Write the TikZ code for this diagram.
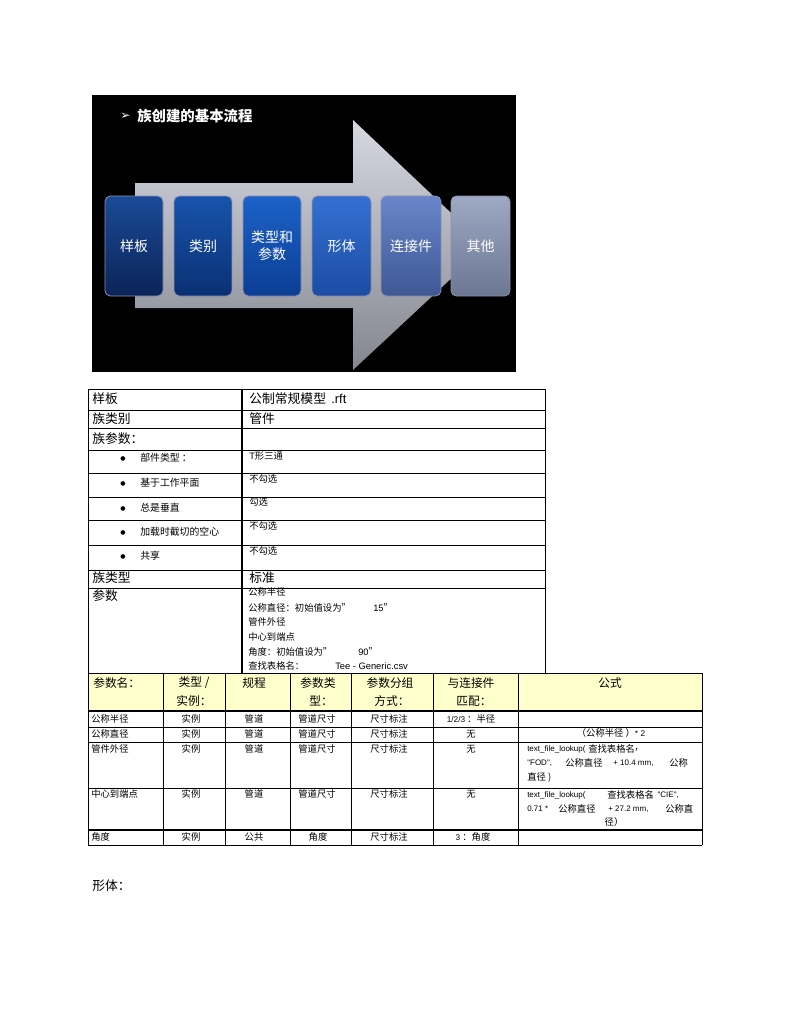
\documentclass[tikz,border=0pt]{standalone}
\usepackage{fontspec}
\setmainfont{Noto Sans CJK SC}
\newfontfamily\lat{Liberation Sans}
\newfontfamily\dv{DejaVu Sans}
\definecolor{arT}{HTML}{D6D9E1}
\definecolor{arB}{HTML}{84868F}
\definecolor{hdy}{HTML}{FFFFCC}
\begin{document}
\begin{tikzpicture}[x=0.75pt,y=-0.75pt,
  gl/.style={line width=0.7pt,black},
  glt/.style={line width=1.4pt,black},
  bx/.style={rounded corners=4pt,draw=white!65!blue!40!gray,line width=0.6pt},
  bt/.style={text=white,align=center,inner sep=0pt,font=\fontsize{10.5pt}{13pt}\selectfont},
  tl/.style={anchor=west,inner sep=0pt,font=\fontsize{9.6pt}{11pt}\selectfont},
  ts/.style={anchor=west,inner sep=0pt,font=\fontsize{7.4pt}{9pt}\selectfont},
  tv/.style={anchor=west,inner sep=0pt,font=\fontsize{7pt}{8pt}\selectfont},
  bul/.style={inner sep=0pt,font=\dv\fontsize{4.5pt}{5pt}\selectfont},
  hd/.style={inner sep=0pt,font=\fontsize{8.8pt}{10pt}\selectfont},
  bd/.style={inner sep=0pt,font=\fontsize{7pt}{8pt}\selectfont},
  bdw/.style={bd,anchor=west},
  la/.style={inner sep=0pt,anchor=west,font=\lat\fontsize{6pt}{7pt}\selectfont}
]
\useasboundingbox (0,0) rectangle (791,1024);
\fill[white] (0,0) rectangle (791,1024);

% ---------- top picture ----------
\fill[black] (92,95) rectangle (516,372);
\shade[top color=arT,bottom color=arB] (135,183) -- (353,183) -- (353,120) -- (486,246) -- (353,370) -- (353,308) -- (135,308) -- cycle;
\node[anchor=west,text=white,inner sep=0pt,font=\dv\fontsize{9pt}{10pt}\selectfont] (tb) at (120,116) {➢};
\node[anchor=west,text=white,inner sep=0pt,font=\bfseries\fontsize{10.8pt}{12pt}\selectfont] (tt) at (137,116) {族创建的基本流程};

\shade[bx,top color={rgb,255:red,27;green,74;blue,150},bottom color={rgb,255:red,10;green,36;blue,88}] (105,196) rectangle (163,296);
\shade[bx,top color={rgb,255:red,24;green,84;blue,172},bottom color={rgb,255:red,10;green,48;blue,116}] (174,196) rectangle (232,296);
\shade[bx,top color={rgb,255:red,28;green,98;blue,200},bottom color={rgb,255:red,12;green,62;blue,148}] (243,196) rectangle (301,296);
\shade[bx,top color={rgb,255:red,52;green,112;blue,210},bottom color={rgb,255:red,28;green,76;blue,164}] (312,196) rectangle (371,296);
\shade[bx,top color={rgb,255:red,104;green,134;blue,202},bottom color={rgb,255:red,62;green,88;blue,148}] (381,196) rectangle (441,296);
\shade[bx,top color={rgb,255:red,158;green,170;blue,196},bottom color={rgb,255:red,106;green,118;blue,146}] (451,196) rectangle (510,296);
\node[bt] (k1) at (134,246) {样板};
\node[bt] (k2) at (203,246) {类别};
\node[bt] (k3) at (272,245.5) {类型和\\参数};
\node[bt] (k4) at (341.5,246) {形体};
\node[bt] (k5) at (411,246) {连接件};
\node[bt] (k6) at (480.5,246) {其他};

% ---------- table 1 ----------
\draw[gl] (88,389) rectangle (545,673);
\foreach \yy in {410,428,450,473,497,520,545,570,588} \draw[gl] (88,\yy) -- (545,\yy);
\draw[line width=1pt] (242,389) -- (242,673);

\node[tl] (a1) at (92,399) {样板};
\node[tl] (b1) at (249,399) {公制常规模型\hspace{4pt}{\lat .rft}};
\node[tl] (a2) at (92,419) {族类别};
\node[tl] (b2) at (249,419) {管件};
\node[tl] (a3) at (92,439) {族参数：};

\node[bul] (p1) at (123,459) {●};
\node[bul] (p2) at (123,484) {●};
\node[bul] (p3) at (123,509) {●};
\node[bul] (p4) at (123,533) {●};
\node[bul] (p5) at (123,557) {●};
\node[ts] (a4) at (140,458) {部件类型 ：};
\node[ts] (a5) at (140,483) {基于工作平面};
\node[ts] (a6) at (140,508) {总是垂直};
\node[ts] (a7) at (140,532) {加载时截切的空心};
\node[ts] (a8) at (140,556) {共享};
\node[tv] (b4) at (249,456) {{\lat T}形三通};
\node[tv] (b5) at (249,479) {不勾选};
\node[tv] (b6) at (249,502) {勾选};
\node[tv] (b7) at (249,526) {不勾选};
\node[tv] (b8) at (249,551) {不勾选};

\node[tl] (a9) at (92,578) {族类型};
\node[tl] (b9) at (249,578) {标准};
\node[tl] (a10) at (92,596) {参数};
\node[tv] (c1) at (248,592) {公称半径};
\node[tv] (c2) at (248,608) {公称直径：初始值设为”};
\node[tv] (c2b) at (373,608) {{\lat 15}”};
\node[tv] (c3) at (248,622) {管件外径};
\node[tv] (c4) at (248,637) {中心到端点};
\node[tv] (c5) at (248,652) {角度：初始值设为”};
\node[tv] (c5b) at (358,652) {{\lat 90}”};
\node[tv] (c6) at (248,666) {查找表格名：};
\node[tv] (c6b) at (335,666) {{\lat Tee - Generic.csv}};

% ---------- table 2 ----------
\fill[hdy] (88,673) rectangle (702,711);
\draw[gl] (88,673) -- (702,673);
\draw[line width=1pt] (88,711) -- (702,711);
\foreach \yy in {727,742,788,845} \draw[gl] (88,\yy) -- (702,\yy);
\draw[glt] (88,830) -- (702,830);
\foreach \xx in {88,163,225,290,351,433,518,702} \draw[gl] (\xx,673) -- (\xx,845);

\node[hd,anchor=west] (h1) at (93,683) {参数名：};
\node[hd] (h2a) at (194,683) {类型 /};
\node[hd] (h2b) at (194,701) {实例：};
\node[hd] (h3) at (254,683) {规程};
\node[hd] (h4a) at (318,683) {参数类};
\node[hd] (h4b) at (321,701) {型：};
\node[hd] (h5a) at (390,683) {参数分组};
\node[hd] (h5b) at (392,701) {方式：};
\node[hd] (h6a) at (471,683) {与连接件};
\node[hd] (h6b) at (474,701) {匹配：};
\node[hd] (h7) at (610,683) {公式};

% row 1
\node[bdw] (r1a) at (91,719) {公称半径};
\node[bd] (r1b) at (191,719) {实例};
\node[bd] (r1c) at (254,719) {管道};
\node[bd] (r1d) at (317,719) {管道尺寸};
\node[bd] (r1e) at (389,719) {尺寸标注};
\node[bd] (r1f) at (471,719) {{\lat\fontsize{6.2pt}{7pt}\selectfont 1/2/3} ：半径};
% row 2
\node[bdw] (r2a) at (91,734) {公称直径};
\node[bd] (r2b) at (191,734) {实例};
\node[bd] (r2c) at (254,734) {管道};
\node[bd] (r2d) at (317,734) {管道尺寸};
\node[bd] (r2e) at (389,734) {尺寸标注};
\node[bd] (r2f) at (471,734) {无};
\node[bd] (r2g) at (611,733) {（公称半径 ）{\lat\fontsize{6.2pt}{7pt}\selectfont * 2}};
% row 3
\node[bdw] (r3a) at (91,749) {管件外径};
\node[bd] (r3b) at (191,749) {实例};
\node[bd] (r3c) at (254,749) {管道};
\node[bd] (r3d) at (317,749) {管道尺寸};
\node[bd] (r3e) at (389,749) {尺寸标注};
\node[bd] (r3f) at (471,749) {无};
\node[la] (f3a) at (527,749) {text\_file\_lookup(};
\node[bdw] (f3b) at (588,749) {查找表格名};
\node[bdw] (f3c) at (634,750) {，};
\node[la] (f3d) at (527,763) {"FOD",};
\node[bdw] (f3e) at (565,763) {公称直径};
\node[la] (f3f) at (613,763) {+ 10.4 mm,};
\node[bdw] (f3g) at (669,763) {公称};
\node[bdw] (f3h) at (527,777) {直径 )};
% row 4
\node[bdw] (r4a) at (91,794) {中心到端点};
\node[bd] (r4b) at (191,794) {实例};
\node[bd] (r4c) at (254,794) {管道};
\node[bd] (r4d) at (317,794) {管道尺寸};
\node[bd] (r4e) at (389,794) {尺寸标注};
\node[bd] (r4f) at (471,794) {无};
\node[la] (f4a) at (527,795) {text\_file\_lookup(};
\node[bdw] (f4b) at (607,795) {查找表格名};
\node[bdw] (f4c) at (648,795) {，{\lat\fontsize{6pt}{7pt}\selectfont "CIE",}};
\node[la] (f4d) at (527,809) {0.71 *};
\node[bdw] (f4e) at (558,809) {公称直径};
\node[la] (f4f) at (608,809) {+ 27.2 mm,};
\node[bdw] (f4g) at (665,809) {公称直};
\node[bd] (f4h) at (614,822) {径）};
% row 5
\node[bdw] (r5a) at (91,837) {角度};
\node[bd] (r5b) at (191,837) {实例};
\node[bd] (r5c) at (254,837) {公共};
\node[bd] (r5d) at (318,837) {角度};
\node[bd] (r5e) at (389,837) {尺寸标注};
\node[bd] (r5f) at (473,837) {{\lat\fontsize{6.2pt}{7pt}\selectfont 3} ：角度};

\node[tl] (xt) at (92,886) {形体：};
\end{tikzpicture}
\end{document}
